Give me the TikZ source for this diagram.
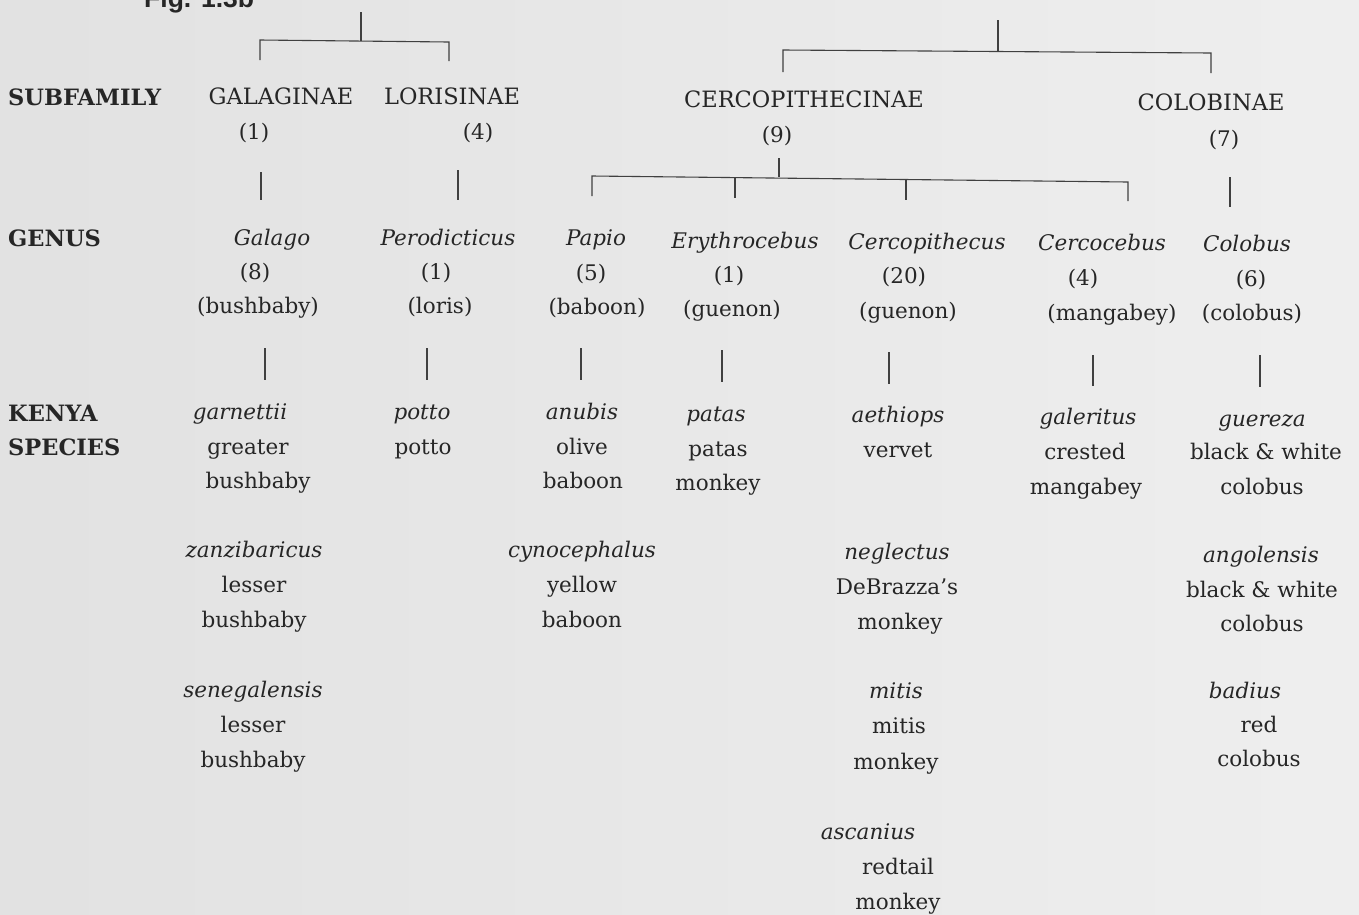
\documentclass[tikz,border=0pt]{standalone}
\usepackage{fontspec}
\setmainfont{DejaVu Serif}
\newfontfamily\figfont{Liberation Sans}
\definecolor{ink}{gray}{0.15}
\definecolor{lineink}{gray}{0.25}
\definecolor{bgL}{gray}{0.885}
\definecolor{bgR}{gray}{0.935}
\begin{document}
\begin{tikzpicture}[x=1pt,y=-1pt,
  t/.style={anchor=base,inner sep=0pt,text=ink,font=\fontsize{21.5}{26}\selectfont},
  tc/.style={t,font=\fontsize{22.5}{26}\selectfont},
  ti/.style={t,font=\fontsize{21.5}{26}\selectfont\itshape},
  lab/.style={t,anchor=base west,font=\fontsize{22.5}{26}\selectfont\bfseries},
  conn/.style={draw=lineink,line width=1.1pt}]
\useasboundingbox (0,0) rectangle (1359,914);
\shade[left color=bgL,right color=bgR] (0,0) rectangle (1359,914);

\node[anchor=base west,inner sep=0pt,text=ink,font=\figfont\bfseries\fontsize{26.5}{30}\selectfont] (fig) at (144,7) {Fig. 1.3b};

% row labels
\node[lab] (subfam) at (8,105) {SUBFAMILY};
\node[lab] (genus) at (8,246) {GENUS};
\node[lab] (kenya) at (8,421) {KENYA};
\node[lab] (species) at (8,455) {SPECIES};

% subfamilies
\node[tc] (gal) at (281,104) {GALAGINAE};
\node[t] (galn) at (254,139) {(1)};
\node[tc] (lor) at (452,104) {LORISINAE};
\node[t] (lorn) at (478,139) {(4)};
\node[tc] (cer) at (804,107) {CERCOPITHECINAE};
\node[t] (cern) at (777,142) {(9)};
\node[tc] (col) at (1211,110) {COLOBINAE};
\node[t] (coln) at (1224,146) {(7)};

% genera
\node[ti] (galago) at (272,245) {Galago};
\node[t] (galagon) at (255,279) {(8)};
\node[t] (galagoc) at (258,313) {(bushbaby)};
\node[ti] (perod) at (448,245) {Perodicticus};
\node[t] (perodn) at (436,279) {(1)};
\node[t] (perodc) at (440,313) {(loris)};
\node[ti] (papio) at (596,245) {Papio};
\node[t] (papion) at (591,280) {(5)};
\node[t] (papioc) at (597,314) {(baboon)};
\node[ti] (eryth) at (745,248) {Erythrocebus};
\node[t] (erythn) at (729,282) {(1)};
\node[t] (erythc) at (732,316) {(guenon)};
\node[ti] (cercop) at (927,249) {Cercopithecus};
\node[t] (cercopn) at (904,283) {(20)};
\node[t] (cercopc) at (908,318) {(guenon)};
\node[ti] (cercoc) at (1102,250) {Cercocebus};
\node[t] (cercocn) at (1083,285) {(4)};
\node[t] (cercocc) at (1112,320) {(mangabey)};
\node[ti] (colob) at (1247,251) {Colobus};
\node[t] (colobn) at (1251,286) {(6)};
\node[t] (colobc) at (1252,320) {(colobus)};

% species
\node[ti] (s1a) at (240,419) {garnettii};
\node[t] (s1b) at (248,454) {greater};
\node[t] (s1c) at (258,488) {bushbaby};
\node[ti] (s2a) at (254,557) {zanzibaricus};
\node[t] (s2b) at (254,592) {lesser};
\node[t] (s2c) at (254,627) {bushbaby};
\node[ti] (s3a) at (253,697) {senegalensis};
\node[t] (s3b) at (253,732) {lesser};
\node[t] (s3c) at (253,767) {bushbaby};

\node[ti] (p1a) at (422,419) {potto};
\node[t] (p1b) at (423,454) {potto};

\node[ti] (b1a) at (582,419) {anubis};
\node[t] (b1b) at (582,454) {olive};
\node[t] (b1c) at (583,488) {baboon};
\node[ti] (b2a) at (582,557) {cynocephalus};
\node[t] (b2b) at (582,592) {yellow};
\node[t] (b2c) at (582,627) {baboon};

\node[ti] (e1a) at (716,421) {patas};
\node[t] (e1b) at (718,456) {patas};
\node[t] (e1c) at (718,490) {monkey};

\node[ti] (c1a) at (898,422) {aethiops};
\node[t] (c1b) at (898,457) {vervet};
\node[ti] (c2a) at (897,559) {neglectus};
\node[t] (c2b) at (897,594) {DeBrazza's};
\node[t] (c2c) at (900,629) {monkey};
\node[ti] (c3a) at (896,698) {mitis};
\node[t] (c3b) at (899,733) {mitis};
\node[t] (c3c) at (896,769) {monkey};
\node[ti] (c4a) at (868,839) {ascanius};
\node[t] (c4b) at (898,874) {redtail};
\node[t] (c4c) at (898,909) {monkey};

\node[ti] (m1a) at (1088,424) {galeritus};
\node[t] (m1b) at (1085,459) {crested};
\node[t] (m1c) at (1086,494) {mangabey};

\node[ti] (k1a) at (1262,426) {guereza};
\node[t] (k1b) at (1266,459) {black \& white};
\node[t] (k1c) at (1262,494) {colobus};
\node[ti] (k2a) at (1261,562) {angolensis};
\node[t] (k2b) at (1262,597) {black \& white};
\node[t] (k2c) at (1262,631) {colobus};
\node[ti] (k3a) at (1245,698) {badius};
\node[t] (k3b) at (1259,732) {red};
\node[t] (k3c) at (1259,766) {colobus};

% bracket coordinates
\coordinate (lorisTop) at (361,12);
\coordinate (lorisJ) at (361,41);
\coordinate (galL) at (260,40);
\coordinate (galLb) at (260,60);
\coordinate (lorR) at (449,42);
\coordinate (lorRb) at (449,61);
\coordinate (cercTop) at (998,20);
\coordinate (cercJ) at (998,51);
\coordinate (cerL) at (783,50);
\coordinate (cerLb) at (783,72);
\coordinate (colR) at (1211,53);
\coordinate (colRb) at (1211,73);
\coordinate (cjTop) at (779,158);
\coordinate (cjJ) at (779,177);
\coordinate (gPapio) at (592,176);
\coordinate (gPapiob) at (592,196);
\coordinate (gEry) at (735,178);
\coordinate (gEryb) at (735,198);
\coordinate (gCerp) at (906,180);
\coordinate (gCerpb) at (906,200);
\coordinate (gCerc) at (1128,182);
\coordinate (gCercb) at (1128,201);

% brackets
\draw[conn] (lorisTop) -- (lorisJ);
\draw[conn] (galLb) -- (galL) -- (lorR) -- (lorRb);
\draw[conn] (cercTop) -- (cercJ);
\draw[conn] (cerLb) -- (cerL) -- (colR) -- (colRb);
\draw[conn] (cjTop) -- (cjJ);
\draw[conn] (gPapiob) -- (gPapio) -- (gCerc) -- (gCercb);
\draw[conn] (gEry) -- (gEryb);
\draw[conn] (gCerp) -- (gCerpb);

% single stems subfamily -> genus
\draw[conn] (261,172) -- (261,200);
\draw[conn] (458,170) -- (458,200);
\draw[conn] (1230,177) -- (1230,207);

% stems genus -> species
\draw[conn] (265,348) -- (265,380);
\draw[conn] (427,348) -- (427,380);
\draw[conn] (581,348) -- (581,380);
\draw[conn] (722,350) -- (722,382);
\draw[conn] (889,352) -- (889,384);
\draw[conn] (1093,355) -- (1093,386);
\draw[conn] (1260,355) -- (1260,387);
\end{tikzpicture}
\end{document}
